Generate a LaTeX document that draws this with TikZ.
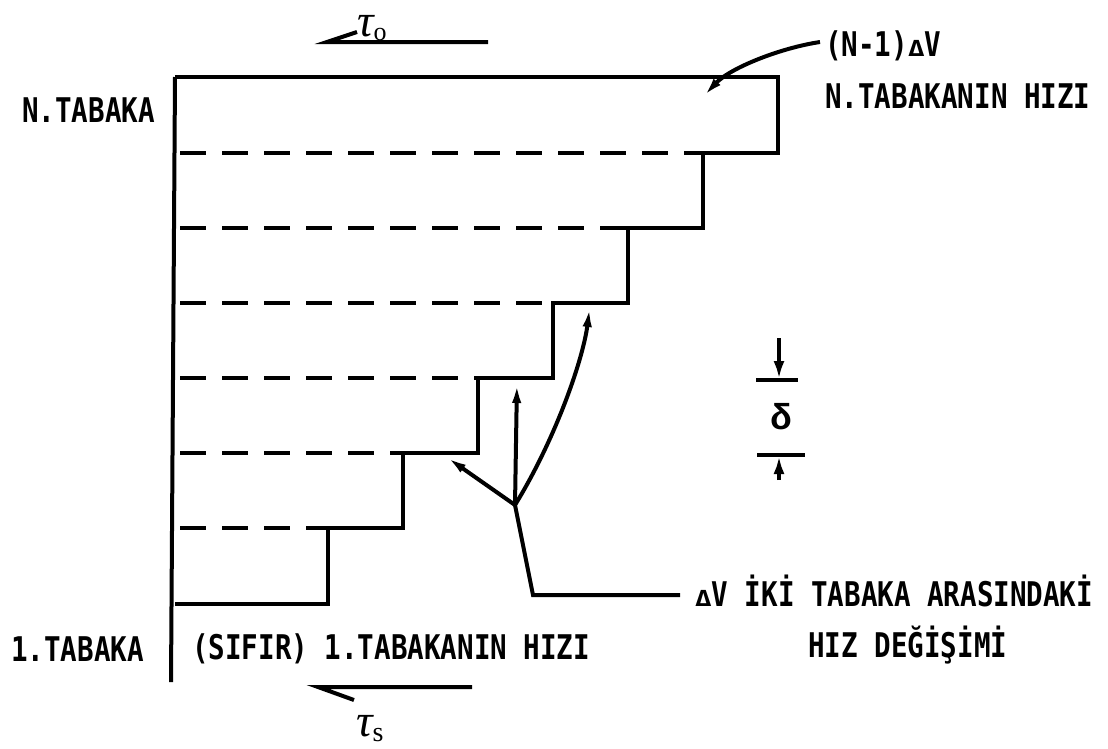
\documentclass[tikz,border=0pt]{standalone}
\usepackage{fontspec}
\usepackage{graphicx}
\setmainfont{Liberation Sans}
\newfontfamily\letfam{DejaVu Sans Mono}
\newfontfamily\taufam{Liberation Serif}
\usetikzlibrary{arrows.meta}
\newcommand{\nar}[1]{\scalebox{0.81}[1]{#1}}
\newcommand{\dlt}{\scalebox{1}[0.65]{Δ}}
\tikzset{
  lbl/.style={anchor=west, inner sep=0pt, font=\fontsize{34}{36}\selectfont\letfam\bfseries},
  heavy/.style={line width=4pt, line join=miter},
  dashline/.style={line width=4pt, dash pattern=on 26pt off 16pt},
  tip/.style={-{Latex[length=22pt,width=9pt]}},
  smalltip/.style={-{Latex[length=18pt,width=11pt]}},
  taufont/.style={anchor=base west, inner sep=0pt, font=\fontsize{46}{46}\selectfont\taufam\itshape}
}
\begin{document}
\begin{tikzpicture}[x=1pt,y=-1pt]
\useasboundingbox (0,0) rectangle (1108,748);
% outline of the layers
\draw[heavy] (175,77) -- (778,77) -- (778,153) -- (703,153) -- (703,228) -- (628,228)
  -- (628,303) -- (553,303) -- (553,378) -- (478,378) -- (478,453) -- (403,453)
  -- (403,528) -- (328,528) -- (328,604) -- (175,604);
\draw[heavy] (175,77) -- (171,682);
% dashed layer boundaries
\foreach \yy/\xx in {153/703, 228/628, 303/553, 378/478, 453/403, 528/328}
  \draw[dashline] (180,\yy) -- (\xx,\yy);
% texts
\node[lbl] (nt) at (22,110) {\nar{N.TABAKA}};
\node[lbl] (nv) at (825,46) {\nar{(N-1)\dlt V}};
\node[lbl] (nh) at (825,96) {\nar{N.TABAKANIN HIZI}};
\node[lbl] (t1) at (11,649) {\nar{1.TABAKA}};
\node[lbl] (t1h) at (192,649) {\nar{(SIFIR) 1.TABAKANIN HIZI}};
\node[lbl] (dv) at (695,591) {\nar{\dlt V İKİ TABAKA ARASINDAKİ}};
\node[lbl] (dv2) at (808,645) {\nar{HIZ DEĞİŞİMİ}};
% (N-1)dV leader
\coordinate (nvs) at (820,42);
\coordinate (nvt) at (702,98);
\draw[heavy, tip] (nvs) .. controls (780,48) and (730,68) .. (nvt);
% delta V arrows
\coordinate (J) at (515,505);
\coordinate (a1) at (445,456);
\coordinate (a2) at (517,381);
\coordinate (a3) at (590,305);
\coordinate (lk) at (533,595);
\coordinate (le) at (680,595);
\draw[heavy, tip] (J) -- (a1);
\draw[heavy, tip] (J) -- (a2);
\draw[heavy, tip] (J) .. controls (555,440) and (583,360) .. (a3);
\draw[heavy] (J) -- (lk) -- (le);
% delta dimension
\coordinate (d1a) at (756,380); \coordinate (d1b) at (798,380);
\coordinate (d2a) at (757,455); \coordinate (d2b) at (805,455);
\draw[heavy] (d1a) -- (d1b);
\draw[heavy] (d2a) -- (d2b);
\coordinate (u1) at (779,338); \coordinate (u2) at (779,379);
\coordinate (w1) at (779,480); \coordinate (w2) at (779,456);
\draw[heavy, smalltip] (u1) -- (u2);
\draw[heavy, smalltip] (w1) -- (w2);
\node[inner sep=0pt, font=\fontsize{36}{36}\selectfont\bfseries] (del) at (781,417) {δ};
% tau 0
\coordinate (t0a) at (327,42); \coordinate (t0b) at (488,42); \coordinate (t0c) at (357,32);
\draw[heavy] (t0b) -- (t0a) -- (t0c);
\node[taufont] (tau0) at (357,36) {τ\raisebox{-4pt}{\fontsize{26}{26}\selectfont\upshape o}};
% tau s
\coordinate (tsa) at (318,687); \coordinate (tsb) at (472,687); \coordinate (tsc) at (354,700);
\draw[heavy] (tsb) -- (tsa) -- (tsc);
\node[taufont] (taus) at (356,736) {τ\raisebox{-5pt}{\fontsize{28}{28}\selectfont\upshape s}};
\end{tikzpicture}
\end{document}
